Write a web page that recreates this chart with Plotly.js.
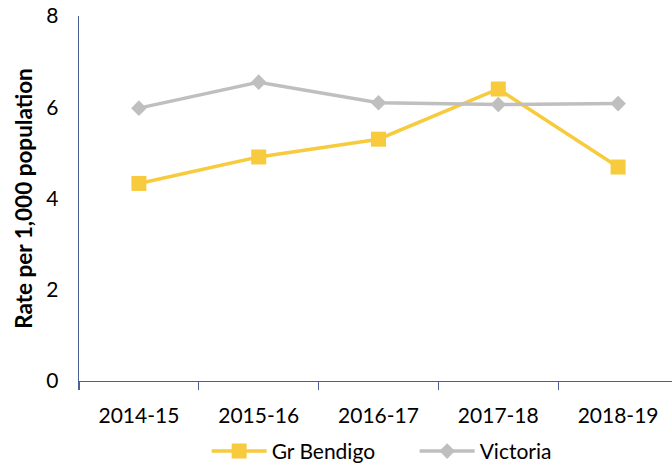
<!DOCTYPE html>
<html>
<head>
<meta charset="utf-8">
<script src="https://cdn.plot.ly/plotly-3.0.1.min.js"></script>
<style>html,body{margin:0;padding:0;background:#fff;}#chart{width:672px;height:466px;}</style>
</head>
<body>
<div id="chart"></div>
<script>
var categories = ["2014-15", "2015-16", "2016-17", "2017-18", "2018-19"];
var grBendigo = [4.33, 4.91, 5.3, 6.4, 4.69];
var victoria = [5.98, 6.55, 6.1, 6.06, 6.08];
var yTicks = [0, 2, 4, 6, 8];
var seriesNames = ["Gr Bendigo", "Victoria"];

var axisColor = "#4a6195";
var fontFam = "Lato, 'Open Sans', sans-serif";

var traces = [
  {
    x: categories, y: grBendigo, name: seriesNames[0], type: "scatter", mode: "lines+markers",
    line: {color: "#f7cb3d", width: 3.5},
    marker: {symbol: "square", size: 15, color: "#f7cb3d"}
  },
  {
    x: categories, y: victoria, name: seriesNames[1], type: "scatter", mode: "lines+markers",
    line: {color: "#bfbfbf", width: 3.5},
    marker: {symbol: "diamond", size: 12, color: "#bfbfbf"}
  }
];

var layout = {
  width: 672, height: 466,
  margin: {l: 79, r: 0, t: 16, b: 84.5, autoexpand: false},
  paper_bgcolor: "#ffffff", plot_bgcolor: "#ffffff",
  font: {family: fontFam, size: 21, color: "#000000"},
  showlegend: true,
  legend: {
    orientation: "h", x: 0.566, xanchor: "center", y: -0.193, yanchor: "middle",
    font: {family: fontFam, size: 21, color: "#000000"},
    itemwidth: 55, entrywidth: 138, entrywidthmode: "pixels", traceorder: "normal"
  },
  xaxis: {
    type: "category",
    range: [-0.5, 4.45],
    showline: true, linecolor: axisColor, linewidth: 1.3,
    ticks: "outside", tickson: "boundaries", ticklen: 8, tickcolor: axisColor, tickwidth: 1.3,
    showgrid: false, zeroline: false,
    tickfont: {family: fontFam, size: 21, color: "#000000"},
    ticklabelstandoff: 15
  },
  yaxis: {
    range: [0, 8],
    tickvals: yTicks,
    showline: true, linecolor: axisColor, linewidth: 1.3,
    ticks: "", showgrid: false, zeroline: false,
    tickfont: {family: fontFam, size: 21, color: "#000000"},
    ticklabelstandoff: 15,
    title: {text: "<b>Rate per 1,000 population</b>", font: {family: fontFam, size: 22.5, color: "#000000"}, standoff: 7}
  }
};

Plotly.newPlot("chart", traces, layout, {displayModeBar: false, staticPlot: true});
</script>
</body>
</html>
